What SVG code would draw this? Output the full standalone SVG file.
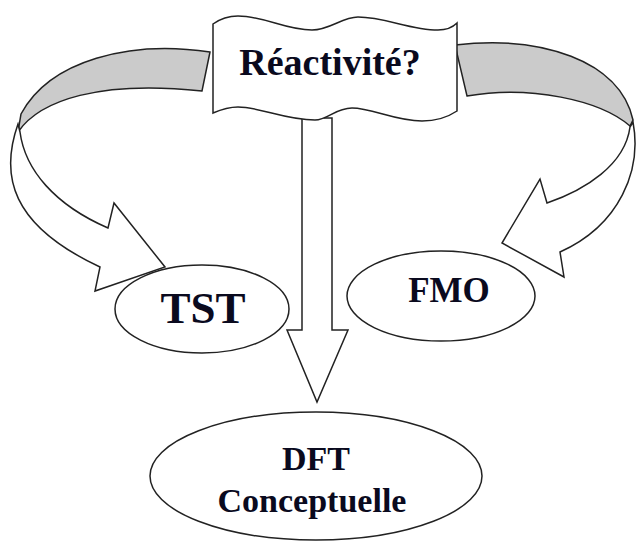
<svg xmlns="http://www.w3.org/2000/svg" width="638" height="542" viewBox="0 0 638 542">
<style>
.ln{stroke:#222;stroke-width:1.5;stroke-linejoin:miter}
.back{fill:#cbcbcb}
.front{fill:#fff}
.lbl{font-family:"Liberation Serif","Times New Roman",serif;font-weight:bold;fill:#0a0a1e;text-anchor:middle}
</style>
<rect width="638" height="542" fill="#fff"/>
<g id="connectors">
<path class="ln back" d="M 210,52 C 130,40 50,60 21,114 L 18,132 C 40,100 100,80 202,91 Z"/>
<path class="ln front" d="M 18,124 C 0,175 10,225 100,267 L 95,291 L 165,267 L 114,203 L 108,228 C 55,205 25,170 20,132 Z"/>
<path class="ln back" d="M 455,45 C 540,35 620,60 633,120 L 630,126 C 600,100 530,85 467,96 Z"/>
<path class="ln front" d="M 633,122 C 642,170 620,225 560,252 L 564,277 L 502,243 L 540,179 L 547,203 C 585,190 625,165 630,127 Z"/>
<path class="ln front" d="M 302,118 L 332,118 L 332,330 L 348,330 L 317,402 L 287,330 L 302,330 Z"/>
</g>
<g id="reactivite">
<path class="ln front" d="M 213,24 C 220,19 228,16 238,16 C 265,16 285,30 312,30 C 330,30 342,17 358,17 C 385,17 410,30 438,30 C 447,30 453,27 457,23 L 457,111 C 448,117 435,121 422,121 C 395,121 372,108 352,108 C 335,108 328,120 315,120 C 285,120 260,107 238,107 C 228,107 220,110 213,113 Z"/>
<text class="lbl" x="330" y="75" font-size="38">Réactivité?</text>
</g>
<g id="tst">
<ellipse class="ln front" cx="202" cy="309" rx="87" ry="44"/>
<text class="lbl" x="203" y="323" font-size="45">TST</text>
</g>
<g id="fmo">
<ellipse class="ln front" cx="441" cy="296" rx="94" ry="45"/>
<text class="lbl" x="449" y="302" font-size="35">FMO</text>
</g>
<g id="dft">
<ellipse class="ln front" cx="316" cy="476" rx="166" ry="64"/>
<text class="lbl" x="316" y="470" font-size="34">DFT</text>
<text class="lbl" x="312" y="512" font-size="34">Conceptuelle</text>
</g>
</svg>
